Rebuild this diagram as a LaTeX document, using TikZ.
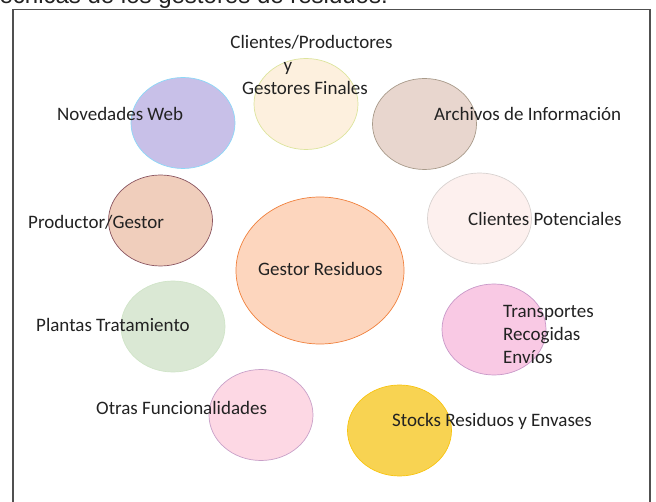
\documentclass[tikz,border=0pt]{standalone}
\usepackage{fontspec}
\newfontfamily\bubblefont{Carlito}
\newfontfamily\titlefont{Liberation Sans}
\definecolor{txtgray}{RGB}{34, 34, 34}
\definecolor{framegray}{RGB}{80, 80, 80}
\definecolor{lavfill}{RGB}{200, 192, 232}
\definecolor{lavdraw}{RGB}{140, 216, 248}
\definecolor{creamfill}{RGB}{253, 240, 222}
\definecolor{creamdraw}{RGB}{220, 228, 156}
\definecolor{archfill}{RGB}{232, 214, 206}
\definecolor{archdraw}{RGB}{168, 154, 138}
\definecolor{potfill}{RGB}{253, 240, 238}
\definecolor{potdraw}{RGB}{216, 210, 208}
\definecolor{prodfill}{RGB}{240, 206, 188}
\definecolor{proddraw}{RGB}{138, 85, 96}
\definecolor{gestfill}{RGB}{253, 214, 190}
\definecolor{gestdraw}{RGB}{240, 128, 60}
\definecolor{plantfill}{RGB}{218, 232, 212}
\definecolor{plantdraw}{RGB}{208, 228, 200}
\definecolor{transfill}{RGB}{249, 201, 228}
\definecolor{transdraw}{RGB}{200, 152, 200}
\definecolor{otrasfill}{RGB}{253, 216, 228}
\definecolor{otrasdraw}{RGB}{200, 160, 200}
\definecolor{stockfill}{RGB}{248, 211, 82}
\definecolor{stockdraw}{RGB}{248, 196, 16}
\usepackage{tikz}
\usetikzlibrary{shapes, positioning}
\tikzset{
  bubble/.style={ellipse, minimum width=104pt, minimum height=91pt, inner sep=0pt, line width=0.7pt},
  lbl/.style={font=\bubblefont\fontsize{19}{23}\selectfont, text=txtgray, inner sep=0pt, anchor=base west}
}

\begin{document}
\begin{tikzpicture}[x=1pt, y=-1pt]
  \useasboundingbox (0,0) rectangle (656,502);
  % cut-off heading above the frame
  \begin{scope}
    \clip (0,0) rectangle (656,12);
    \node[font=\titlefont\fontsize{24}{28}\selectfont, text=txtgray, inner sep=0pt, anchor=base east] (title) at (388,3.5) {técnicas de los gestores de residuos.};
  \end{scope}
  \draw[framegray, line width=1.2pt] (13,502) -- (13,9.5) -- (650,9.5) -- (650,502);

  % bubbles
  \node[bubble, fill=creamfill, draw=creamdraw] (clientes) at (306,104) {};
  \node[bubble, fill=lavfill, draw=lavdraw] (novedades) at (183,123) {};
  \node[bubble, fill=archfill, draw=archdraw] (archivos) at (424.5,124) {};
  \node[bubble, fill=potfill, draw=potdraw] (potenciales) at (479.5,218.5) {};
  \node[bubble, fill=prodfill, draw=proddraw] (productor) at (160.5,220.5) {};
  \node[bubble, fill=gestfill, draw=gestdraw, minimum width=168pt, minimum height=147pt] (gestor) at (320,270.5) {};
  \node[bubble, fill=plantfill, draw=plantdraw] (plantas) at (173,326.5) {};
  \node[bubble, fill=transfill, draw=transdraw] (transportes) at (494,329.5) {};
  \node[bubble, fill=otrasfill, draw=otrasdraw] (otras) at (261,415) {};
  \node[bubble, fill=stockfill, draw=stockdraw] (stocks) at (399.5,430.5) {};

  % labels
  \node[lbl, anchor=base] (lblclientes) at (311.5,49) {Clientes/Productores};
  \node[lbl, anchor=base] (lbly) at (288,72) {y};
  \node[lbl, anchor=base] (lblfinales) at (305,95) {Gestores Finales};
  \node[lbl] (lblnovedades) at (57,121) {Novedades Web};
  \node[lbl] (lblarchivos) at (434,121) {Archivos de Información};
  \node[lbl] (lblproductor) at (28,229) {Productor/Gestor};
  \node[lbl] (lblpotenciales) at (468,226) {Clientes Potenciales};
  \node[lbl] (lblgestor) at (258,276) {Gestor Residuos};
  \node[lbl] (lblplantas) at (36,332) {Plantas Tratamiento};
  \node[lbl] (lbltransportes) at (503,318) {Transportes};
  \node[lbl] (lblrecogidas) at (503,341) {Recogidas};
  \node[lbl] (lblenvios) at (503,364) {Envíos};
  \node[lbl] (lblotras) at (96,415) {Otras Funcionalidades};
  \node[lbl] (lblstocks) at (392,426) {Stocks Residuos y Envases};
\end{tikzpicture}
\end{document}
